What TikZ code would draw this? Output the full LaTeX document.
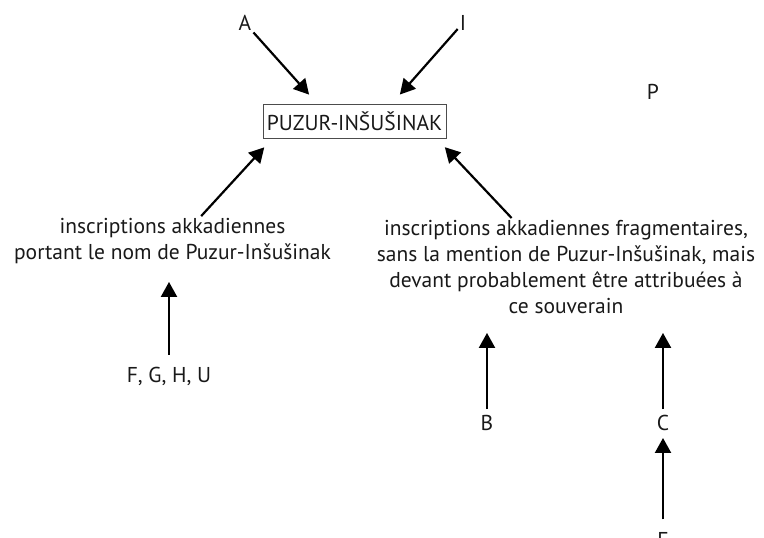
\documentclass[tikz,border=0pt]{standalone}
\usepackage{fontspec}
\setmainfont{PT Sans}
\usetikzlibrary{arrows.meta, calc}

\begin{document}
\begin{tikzpicture}[x=1pt, y=-1pt,
	lbl/.style={font=\fontsize{21.5}{26}\selectfont, text=black!90, inner sep=2pt},
	arr/.style={-{Triangle[length=15pt,width=16pt]}, line width=2.2pt}]
	\useasboundingbox (0,0) rectangle (764,538);
	% top
	\node[lbl] (A) at (245,23) {A};
	\node[lbl] (I) at (463,23) {I};
	\node[lbl] (P) at (653,92) {P};
	\node[lbl, draw=black!70, line width=0.9pt, minimum width=183pt, minimum height=34pt, inner sep=0pt] (puzur) at (354.5,121) {PUZUR-INŠUŠINAK};
	% inscriptions
	\node[lbl, align=center] (akkL) at (172.5,241) {inscriptions akkadiennes\\portant le nom de Puzur-Inšušinak};
	\node[lbl, align=center] (akkR) at (566,267) {inscriptions akkadiennes fragmentaires,\\sans la mention de Puzur-Inšušinak, mais\\devant probablement être attribuées à\\ce souverain};
	% sources
	\node[lbl] (fghu) at (169,376) {F, G, H, U};
	\node[lbl] (B) at (487,423) {B};
	\node[lbl] (C) at (663,423) {C};
	\node[lbl] (F) at (663,540) {F};
	% arrows
	\draw[arr, shorten >=12pt] (A) -- (puzur.155);
	\draw[arr, shorten >=12pt] (I) -- (puzur.25);
	\draw[arr, shorten >=12pt] (akkL.41) -- (puzur.-168);
	\draw[arr, shorten >=12pt] (akkR.138) -- (puzur.-12);
	\draw[arr, shorten >=16pt, shorten <=10pt] (fghu) -- (fghu |- akkL.south);
	\draw[arr, shorten >=17pt, shorten <=4pt] (B) -- (B |- akkR.south);
	\draw[arr, shorten >=17pt, shorten <=4pt] (C) -- (C |- akkR.south);
	\draw[arr, shorten >=5pt, shorten <=11pt] (F) -- (C);
\end{tikzpicture}
\end{document}
